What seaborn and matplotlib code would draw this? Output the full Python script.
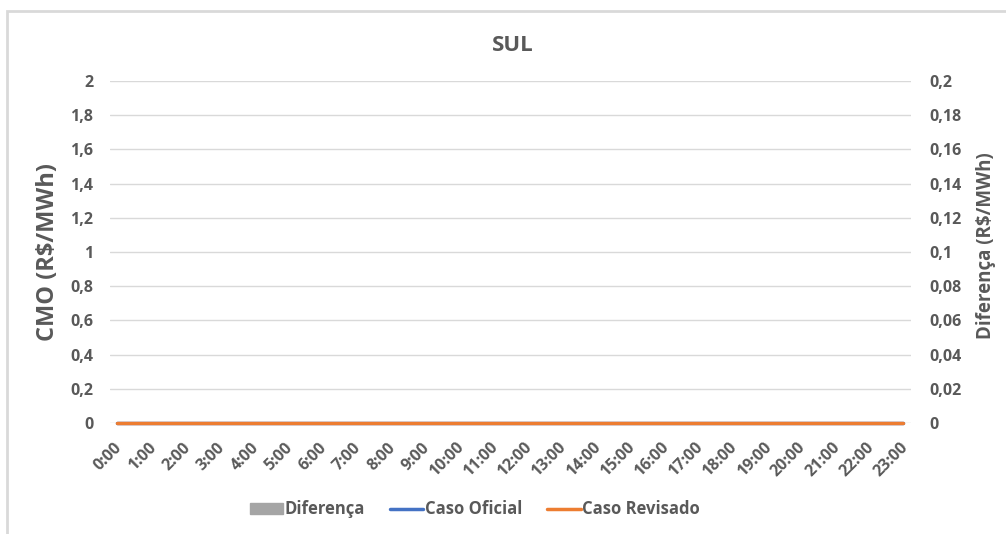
import matplotlib.pyplot as plt
import matplotlib.patches as mpatches
import matplotlib.lines as mlines
import matplotlib.transforms as mtransforms
import seaborn as sns
import pandas as pd

horas = [f"{h}:00" for h in range(24)]
diferenca = [0.0] * 24
caso_oficial = [0.0] * 24
caso_revisado = [0.0] * 24

cinza_txt = "#595959"
cor_dif = "#A5A5A5"
cor_ofi = "#4472C4"
cor_rev = "#ED7D31"

sns.set_style("white")
plt.rcParams['font.family'] = ['Open Sans', 'DejaVu Sans']

df = pd.DataFrame({"x": range(24), "hora": horas, "dif": diferenca,
                   "oficial": caso_oficial, "revisado": caso_revisado})

fig = plt.figure(figsize=(10.06, 5.34), dpi=100)
ax = fig.add_axes([110 / 1006, 1 - 423 / 534, 801 / 1006, 342 / 534])
ax2 = ax.twinx()

# barras da diferenca no eixo secundario
sns.barplot(data=df, x="x", y="dif", color=cor_dif, ax=ax2, native_scale=True, width=0.6)
sns.lineplot(data=df, x="x", y="oficial", color=cor_ofi, lw=2.5, ax=ax, clip_on=False)
sns.lineplot(data=df, x="x", y="revisado", color=cor_rev, lw=2.5, ax=ax, clip_on=False)

ax.set_zorder(ax2.get_zorder() + 1)
ax.patch.set_visible(False)

ax.set_xlim(-0.2, 23.23)
ax.set_ylim(0, 2)
ax2.set_ylim(0, 0.2)
yt = [i * 0.2 for i in range(11)]
ax.set_yticks(yt)
ax.set_yticklabels([f"{v:.1f}".rstrip("0").rstrip(".").replace(".", ",") if v else "0" for v in yt])
yt2 = [i * 0.02 for i in range(11)]
ax2.set_yticks(yt2)
ax2.set_yticklabels([f"{v:.2f}".rstrip("0").rstrip(".").replace(".", ",") if v else "0" for v in yt2])
ax.set_xticks(range(24))
ax.set_xticklabels(horas, rotation=45, ha="right", rotation_mode="anchor")

ax.grid(axis="y", color="#D9D9D9", lw=1)
for a in (ax, ax2):
    for s in a.spines.values():
        s.set_visible(False)
    a.tick_params(length=0, colors=cinza_txt, labelsize=11.5)
    for lbl in a.get_yticklabels() + a.get_xticklabels():
        lbl.set_fontweight("bold")
ax.tick_params(axis="y", pad=12)
ax2.tick_params(axis="y", pad=13)
ax.tick_params(axis="x", pad=12)
desloc = mtransforms.ScaledTranslation(-3 / 100, 0, fig.dpi_scale_trans)
for lbl in ax.get_xticklabels():
    lbl.set_transform(lbl.get_transform() + desloc)
ax2.set_xlabel("")

ax.set_xlabel("")
ax.set_ylabel("CMO (R$/MWh)", fontsize=17, fontweight="bold", color=cinza_txt, va="center")
ax.yaxis.set_label_coords(-0.078, 0.5)
ax2.set_ylabel("Diferença (R$/MWh)", fontsize=13.5, fontweight="bold", color=cinza_txt, va="center")
ax2.yaxis.set_label_coords(1.094, 0.518)
fig.text(513 / 1006, 1 - 51 / 534, "SUL", fontsize=16, fontweight="bold", color=cinza_txt,
         ha="center", va="baseline")

handles = [mpatches.Patch(color=cor_dif, label="Diferença"),
           mlines.Line2D([], [], color=cor_ofi, lw=2.5, label="Caso Oficial"),
           mlines.Line2D([], [], color=cor_rev, lw=2.5, label="Caso Revisado")]
leg = fig.legend(handles=handles, loc="center", bbox_to_anchor=(0.472, 0.046), ncol=3,
                 frameon=False, fontsize=12, handlelength=2.0, handletextpad=0.1,
                 columnspacing=1.5)
for t in leg.get_texts():
    t.set_color(cinza_txt)
    t.set_fontweight("bold")

fig.patches.append(mpatches.Rectangle((7 / 1006, -0.05), 1.1, 1 - 11 / 534 + 0.05,
                                      transform=fig.transFigure, fill=False,
                                      ec="#D9D9D9", lw=2))

fig.savefig("out.png", dpi=100)
